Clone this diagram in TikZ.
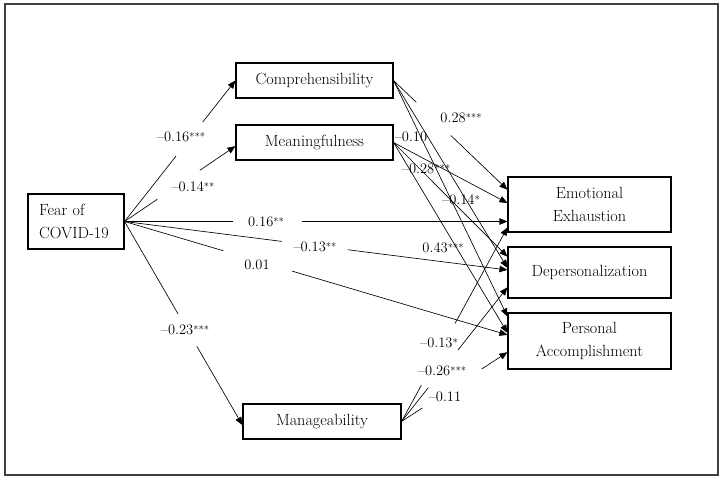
\documentclass[tikz,border=0pt]{standalone}
\usetikzlibrary{arrows.meta,calc}
\newcommand\sig[1]{\raisebox{1.2pt}{\fontsize{10.5}{10}\selectfont #1}}
\newcommand\gapdraw[4]{%
  \draw[conn] (#1) -- ($(#1)!#3!(#2)$);
  \draw[conn,arr] ($(#1)!#4!(#2)$) -- (#2);}
\begin{document}
\begin{tikzpicture}[x=1pt,y=-1pt,
  box/.style={draw,line width=1.1pt,inner sep=0pt,align=center,font=\fontsize{16.2}{23.5}\selectfont},
  conn/.style={line width=0.65pt},
  arr/.style={-{Triangle[length=8pt,width=6.5pt]}},
  lab/.style={font=\fontsize{14.5}{16}\selectfont,inner sep=0pt}]
\useasboundingbox (0,0) rectangle (724,483);
\draw[line width=1.4pt,black!75] (5,4) rectangle (718,475);

% boxes
\node[box,minimum width=96pt,minimum height=55pt,text width=74pt,align=left] (fear) at (76,221.5) {Fear of\\COVID-19};
\node[box,minimum width=157pt,minimum height=35pt] (comp) at (314.5,80.5) {Comprehensibility};
\node[box,minimum width=157pt,minimum height=35pt] (mean) at (314.5,142.5) {Meaningfulness};
\node[box,minimum width=158pt,minimum height=35pt] (manag) at (322,421.5) {Manageability};
\node[box,minimum width=163pt,minimum height=55pt] (ee) at (589.5,204.5) {Emotional\\Exhaustion};
\node[box,minimum width=163pt,minimum height=51pt] (dp) at (589.5,272.5) {Depersonalization};
\node[box,minimum width=163pt,minimum height=56pt] (pa) at (589.5,341) {Personal\\Accomplishment};

% arrival points on the outcome boxes
\coordinate (ee1) at ($(ee.north west)!0.236!(ee.south west)$);
\coordinate (ee2) at ($(ee.north west)!0.473!(ee.south west)$);
\coordinate (ee3) at (fear.east -| ee.west);
\coordinate (ee4) at ($(ee.north west)!0.909!(ee.south west)$);
\coordinate (dp1) at ($(dp.north west)!0.196!(dp.south west)$);
\coordinate (dp2) at ($(dp.north west)!0.412!(dp.south west)$);
\coordinate (dp3) at ($(dp.north west)!0.451!(dp.south west)$);
\coordinate (dp4) at ($(dp.north west)!0.784!(dp.south west)$);
\coordinate (pa1) at ($(pa.north west)!0.071!(pa.south west)$);
\coordinate (pa2) at ($(pa.north west)!0.357!(pa.south west)$);
\coordinate (pa3) at ($(pa.north west)!0.393!(pa.south west)$);
\coordinate (pa4) at ($(pa.north west)!0.696!(pa.south west)$);
\coordinate (meanin) at ($(mean.north west)!0.6!(mean.south west)$);
\coordinate (managin) at ($(manag.north west)!0.6!(manag.south west)$);

% Fear of COVID-19 paths
\gapdraw{fear.east}{comp.west}{0.464}{0.705}
\gapdraw{fear.east}{meanin}{0.295}{0.679}
\gapdraw{fear.east}{ee3}{0.284}{0.464}
\gapdraw{fear.east}{dp3}{0.411}{0.583}
\gapdraw{fear.east}{pa3}{0.258}{0.4375}
\gapdraw{fear.east}{managin}{0.454}{0.613}

% Comprehensibility paths
\gapdraw{comp.east}{ee1}{0.2}{0.504}
\draw[conn,arr] (comp.east) -- (dp2);
\draw[conn,arr] (comp.east) -- (pa1);

% Meaningfulness paths
\draw[conn,arr] (mean.east) -- (ee2);
\draw[conn,arr] (mean.east) -- (dp1);
\draw[conn,arr] (mean.east) -- (pa2);

% Manageability paths
\gapdraw{manag.east}{ee4}{0.187}{0.505}
\gapdraw{manag.east}{dp4}{0.252}{0.533}
\gapdraw{manag.east}{pa4}{0.196}{0.757}

% labels
\node[lab] (l1) at (181,137) {--0.16\sig{***}};
\node[lab] (l2) at (193,187) {--0.14\sig{**}};
\node[lab] (l3) at (266,222) {0.16\sig{**}};
\node[lab] (l4) at (315,247) {--0.13\sig{**}};
\node[lab] (l5) at (257,265) {0.01};
\node[lab] (l6) at (185,330) {--0.23\sig{***}};
\node[lab] (l7) at (461,118) {0.28\sig{***}};
\node[lab] (l8) at (411,137) {--0.10};
\node[lab] (l9) at (426,169) {--0.28\sig{***}};
\node[lab] (l10) at (461,200) {--0.14\sig{*}};
\node[lab] (l11) at (443,248) {0.43\sig{***}};
\node[lab] (l12) at (439,343) {--0.13\sig{*}};
\node[lab] (l13) at (442,371) {--0.26\sig{***}};
\node[lab] (l14) at (445,397) {--0.11};
\end{tikzpicture}
\end{document}
